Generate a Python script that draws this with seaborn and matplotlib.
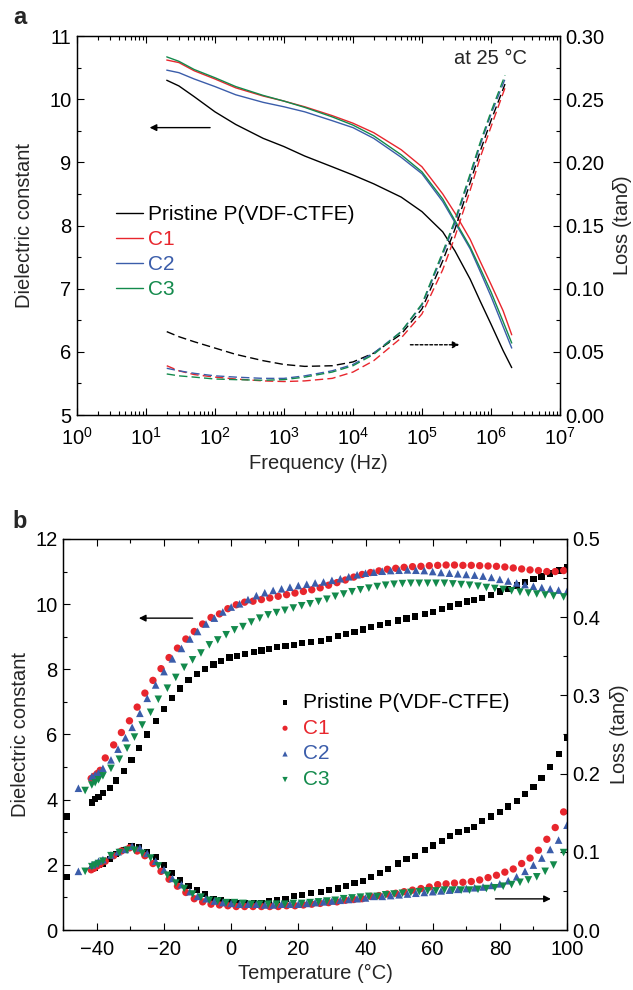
import matplotlib
matplotlib.use("Agg")
import matplotlib.pyplot as plt
from matplotlib.ticker import MultipleLocator, LogLocator, NullFormatter, FormatStrFormatter, FixedLocator
import seaborn as sns

# ---------- panel a: frequency sweep at 25 C ----------
freq_eps = [20, 30, 50, 100, 200, 500, 1e3, 2e3, 5e3, 1e4, 2e4, 5e4, 1e5, 2e5, 3e5, 5e5, 7e5, 1e6, 1.5e6, 2e6]
eps_pristine_f = [10.30, 10.21, 10.04, 9.80, 9.60, 9.38, 9.25, 9.10, 8.93, 8.80, 8.66, 8.45, 8.22, 7.90, 7.60, 7.15, 6.80, 6.44, 6.02, 5.75]
eps_c1_f = [10.62, 10.58, 10.45, 10.32, 10.18, 10.05, 9.97, 9.88, 9.74, 9.62, 9.47, 9.20, 8.93, 8.50, 8.20, 7.78, 7.43, 7.07, 6.65, 6.27]
eps_c2_f = [10.46, 10.42, 10.32, 10.20, 10.07, 9.95, 9.88, 9.80, 9.66, 9.55, 9.38, 9.08, 8.82, 8.38, 8.05, 7.63, 7.27, 6.88, 6.40, 6.06]
eps_c3_f = [10.67, 10.60, 10.47, 10.34, 10.20, 10.06, 9.97, 9.87, 9.72, 9.59, 9.42, 9.12, 8.85, 8.42, 8.08, 7.66, 7.32, 6.95, 6.48, 6.14]

freq_loss = [20, 30, 50, 100, 200, 500, 1e3, 2e3, 5e3, 1e4, 2e4, 5e4, 1e5, 2e5, 3e5, 5e5, 7e5, 1e6, 1.6e6]
loss_pristine_f = [0.066, 0.062, 0.058, 0.053, 0.048, 0.043, 0.040, 0.0385, 0.039, 0.042, 0.049, 0.064, 0.084, 0.122, 0.147, 0.184, 0.209, 0.233, 0.262]
loss_c1_f = [0.039, 0.035, 0.032, 0.030, 0.0285, 0.027, 0.0265, 0.027, 0.029, 0.034, 0.043, 0.061, 0.080, 0.115, 0.141, 0.178, 0.204, 0.228, 0.259]
loss_c2_f = [0.037, 0.035, 0.033, 0.031, 0.030, 0.029, 0.029, 0.031, 0.035, 0.040, 0.049, 0.066, 0.087, 0.127, 0.152, 0.189, 0.214, 0.238, 0.266]
loss_c3_f = [0.0325, 0.031, 0.030, 0.0285, 0.028, 0.0275, 0.028, 0.030, 0.034, 0.039, 0.048, 0.066, 0.088, 0.129, 0.154, 0.191, 0.216, 0.240, 0.269]
freq_ticks = [1, 10, 100, 1e3, 1e4, 1e5, 1e6, 1e7]

# ---------- panel b: temperature sweep ----------
temp_pristine = [-48.8, -41.5, -40.5, -39.5, -38.2, -36.2, -34.2, -32.0, -29.7, -27.5, -25.0, -22.5, -20.0, -17.7,
                 -15.2, -12.7, -10.3, -7.8, -5.3, -3.0, -0.5, 1.8, 4.2, 6.7, 9.0, 11.2, 13.7, 16.2, 18.7, 21.2,
                 23.7, 26.7, 29.2, 31.7, 34.2, 36.7, 39.2, 41.7, 44.2, 46.7, 49.7, 52.2, 54.7, 57.7, 60.2, 62.7,
                 65.2, 67.7, 70.2, 72.4, 74.8, 77.4, 80.0, 82.4, 85.0, 87.4, 90.0, 92.4, 95.0, 97.7, 100.0]
eps_pristine_t = [3.48, 3.91, 4.01, 4.09, 4.20, 4.35, 4.59, 4.89, 5.22, 5.59, 6.00, 6.41, 6.79, 7.13,
                  7.41, 7.66, 7.86, 8.01, 8.15, 8.26, 8.36, 8.42, 8.47, 8.54, 8.58, 8.63, 8.68, 8.72, 8.75, 8.80,
                  8.83, 8.87, 8.94, 9.01, 9.08, 9.15, 9.22, 9.29, 9.37, 9.42, 9.50, 9.56, 9.62, 9.70, 9.77, 9.85,
                  9.93, 10.01, 10.08, 10.13, 10.20, 10.29, 10.39, 10.47, 10.57, 10.67, 10.77, 10.85, 10.94, 11.03, 11.14]
loss_pristine_t = [0.068, 0.078, 0.080, 0.083, 0.085, 0.091, 0.097, 0.102, 0.107, 0.106, 0.099, 0.093, 0.083, 0.073,
                   0.064, 0.056, 0.051, 0.046, 0.040, 0.038, 0.036, 0.035, 0.034, 0.035, 0.035, 0.037, 0.038, 0.040,
                   0.043, 0.045, 0.047, 0.049, 0.051, 0.053, 0.056, 0.060, 0.063, 0.068, 0.073, 0.078, 0.085, 0.091,
                   0.095, 0.102, 0.108, 0.114, 0.120, 0.125, 0.128, 0.132, 0.139, 0.145, 0.151, 0.158, 0.165, 0.174,
                   0.183, 0.194, 0.208, 0.225, 0.245]

temp_c1 = [-41.7, -40.8, -39.9, -39.0, -37.5, -35.0, -32.7, -30.3, -28.0, -25.7, -23.3, -20.9, -18.5, -16.0,
           -13.5, -11.0, -8.5, -6.0, -3.5, -1.0, 1.5, 4.0, 6.5, 9.0, 11.5, 14.0, 16.5, 19.0, 21.5, 24.0, 26.5,
           29.0, 31.5, 34.0, 36.5, 39.0, 41.5, 44.0, 46.5, 49.0, 51.5, 54.0, 56.5, 59.0, 61.5, 64.0, 66.5, 69.0,
           71.5, 74.0, 76.5, 79.0, 81.5, 84.0, 86.5, 89.0, 91.5, 94.0, 96.5, 99.0]
eps_c1_t = [4.65, 4.72, 4.80, 4.90, 5.28, 5.68, 6.06, 6.42, 6.84, 7.27, 7.66, 8.02, 8.36, 8.65,
            8.93, 9.16, 9.39, 9.59, 9.70, 9.86, 9.98, 10.06, 10.09, 10.14, 10.19, 10.24, 10.29, 10.34, 10.39,
            10.44, 10.50, 10.58, 10.66, 10.74, 10.83, 10.91, 10.97, 11.02, 11.07, 11.10, 11.13, 11.15, 11.16,
            11.18, 11.19, 11.20, 11.20, 11.19, 11.19, 11.18, 11.17, 11.16, 11.14, 11.11, 11.08, 11.05, 11.03,
            11.00, 11.00, 11.03]
loss_c1_t = [0.077, 0.079, 0.082, 0.084, 0.088, 0.095, 0.101, 0.105, 0.101, 0.095, 0.085, 0.075, 0.065, 0.056,
             0.048, 0.040, 0.036, 0.033, 0.032, 0.031, 0.030, 0.030, 0.030, 0.030, 0.030, 0.030, 0.031, 0.031,
             0.032, 0.033, 0.034, 0.035, 0.036, 0.038, 0.039, 0.040, 0.043, 0.044, 0.046, 0.047, 0.049, 0.051,
             0.053, 0.055, 0.058, 0.059, 0.060, 0.061, 0.062, 0.064, 0.067, 0.070, 0.074, 0.078, 0.085, 0.092,
             0.102, 0.116, 0.131, 0.151]

temp_c2 = [-45.5, -41.5, -40.5, -39.5, -38.2, -35.8, -33.7, -31.5, -29.5, -27.2, -25.0, -22.5, -20.0, -17.5,
           -14.8, -12.3, -10.0, -7.5, -5.0, -2.5, 0.0, 2.5, 5.0, 7.5, 10.0, 12.5, 15.0, 17.5, 20.0, 22.5, 25.0,
           27.5, 30.0, 32.5, 35.0, 37.5, 40.0, 42.5, 45.0, 47.5, 50.0, 52.5, 55.0, 57.5, 60.0, 62.5, 65.0, 67.5,
           70.0, 72.5, 75.0, 77.5, 80.0, 82.5, 85.0, 87.5, 90.0, 92.5, 95.0, 97.5, 100.0]
eps_c2_t = [4.35, 4.71, 4.76, 4.83, 4.96, 5.22, 5.55, 5.90, 6.22, 6.65, 7.11, 7.52, 7.93, 8.32,
            8.64, 8.93, 9.16, 9.39, 9.57, 9.76, 9.91, 10.01, 10.14, 10.26, 10.35, 10.42, 10.47, 10.52, 10.57,
            10.61, 10.65, 10.68, 10.73, 10.78, 10.84, 10.90, 10.95, 10.98, 11.01, 11.03, 11.04, 11.05, 11.04,
            11.03, 11.00, 10.97, 10.95, 10.93, 10.91, 10.89, 10.86, 10.82, 10.76, 10.71, 10.65, 10.60, 10.55,
            10.51, 10.47, 10.43, 10.39]
loss_c2_t = [0.075, 0.083, 0.085, 0.088, 0.090, 0.096, 0.100, 0.103, 0.107, 0.105, 0.098, 0.088, 0.077, 0.066,
             0.058, 0.049, 0.043, 0.040, 0.037, 0.035, 0.034, 0.033, 0.033, 0.033, 0.032, 0.032, 0.033, 0.033,
             0.033, 0.034, 0.035, 0.036, 0.037, 0.038, 0.039, 0.040, 0.041, 0.043, 0.043, 0.044, 0.045, 0.046,
             0.047, 0.048, 0.049, 0.050, 0.051, 0.052, 0.053, 0.054, 0.055, 0.057, 0.059, 0.063, 0.068, 0.075,
             0.083, 0.092, 0.103, 0.115, 0.134]

temp_c3 = [-43.5, -41.5, -40.5, -39.5, -38.2, -35.8, -33.3, -31.0, -28.8, -26.5, -24.0, -21.7, -19.0, -16.5,
           -14.0, -11.5, -9.0, -6.5, -4.0, -1.5, 1.0, 3.5, 6.0, 8.5, 11.0, 13.5, 16.0, 18.5, 21.0, 23.5, 26.0,
           28.5, 31.0, 33.5, 36.0, 38.5, 41.0, 43.5, 46.0, 48.5, 51.0, 53.5, 56.0, 58.5, 61.0, 63.5, 66.0, 68.5,
           71.0, 73.5, 76.0, 78.5, 81.0, 83.5, 86.0, 88.5, 91.0, 93.5, 96.0, 99.0]
eps_c3_t = [4.28, 4.45, 4.52, 4.61, 4.73, 4.96, 5.24, 5.58, 5.92, 6.29, 6.68, 7.08, 7.42, 7.75,
            8.06, 8.29, 8.50, 8.75, 8.90, 9.06, 9.21, 9.31, 9.45, 9.57, 9.67, 9.74, 9.81, 9.88, 9.95, 10.01,
            10.08, 10.15, 10.24, 10.31, 10.38, 10.44, 10.49, 10.54, 10.58, 10.61, 10.63, 10.64, 10.64, 10.64,
            10.64, 10.64, 10.62, 10.60, 10.58, 10.55, 10.51, 10.48, 10.45, 10.41, 10.37, 10.34, 10.31, 10.28,
            10.25, 10.22]
loss_c3_t = [0.075, 0.081, 0.083, 0.085, 0.088, 0.095, 0.099, 0.102, 0.102, 0.098, 0.092, 0.082, 0.070, 0.060,
             0.053, 0.046, 0.042, 0.038, 0.037, 0.035, 0.035, 0.034, 0.033, 0.033, 0.033, 0.033, 0.033, 0.034,
             0.034, 0.035, 0.036, 0.037, 0.038, 0.040, 0.041, 0.042, 0.043, 0.043, 0.045, 0.046, 0.047, 0.048,
             0.049, 0.050, 0.050, 0.051, 0.051, 0.051, 0.051, 0.052, 0.053, 0.054, 0.056, 0.058, 0.061, 0.064,
             0.068, 0.075, 0.083, 0.099]

labels = ["Pristine P(VDF-CTFE)", "C1", "C2", "C3"]
colors = ["#000000", "#e8262d", "#3b5daa", "#138a4c"]

sns.set_style("ticks")
plt.rcParams["font.family"] = ["Liberation Sans", "DejaVu Sans"]
plt.rcParams["mathtext.fontset"] = "custom"
plt.rcParams["mathtext.rm"] = "Liberation Sans"
plt.rcParams["mathtext.it"] = "Liberation Sans:italic"
plt.rcParams["mathtext.default"] = "regular"
plt.rcParams["axes.linewidth"] = 0.9
plt.rcParams["axes.edgecolor"] = "black"

fs_tick = 14.5
fs_label = 14.5
fs_leg = 15


def style_ticks(ax, right=False, xpad=7):
    ax.tick_params(which="both", direction="in", top=not right, right=right,
                   left=not right, bottom=not right, labelsize=fs_tick, colors="black")
    ax.tick_params(which="major", length=5, width=0.8)
    ax.tick_params(which="minor", length=3, width=0.8)
    ax.tick_params(axis="x", pad=xpad)
    ax.tick_params(axis="y", pad=3.5 if right else 4)


fig = plt.figure(figsize=(6.33, 9.9), dpi=100)

# ===== panel a =====
ax_a = fig.add_axes([0.1216, 0.5808, 0.763, 0.3828])
ax_a2 = ax_a.twinx()
eps_a = [eps_pristine_f, eps_c1_f, eps_c2_f, eps_c3_f]
loss_a = [loss_pristine_f, loss_c1_f, loss_c2_f, loss_c3_f]
for lab, col, ys in zip(labels, colors, eps_a):
    sns.lineplot(x=freq_eps, y=ys, color=col, lw=1.0, label=lab, ax=ax_a)
for col, ys in zip(colors, loss_a):
    sns.lineplot(x=freq_loss, y=ys, color=col, lw=1.0, ax=ax_a2, legend=False)
for ln in ax_a2.get_lines():
    ln.set_dashes((6, 3))

ax_a.set_xscale("log")
ax_a.set_xlim(1, 1e7)
ax_a.set_ylim(5, 11)
ax_a2.set_ylim(0, 0.30)
ax_a.xaxis.set_major_locator(FixedLocator(freq_ticks))
ax_a.xaxis.set_minor_locator(LogLocator(base=10, subs=range(2, 10), numticks=100))
ax_a.xaxis.set_minor_formatter(NullFormatter())
ax_a.yaxis.set_major_locator(MultipleLocator(1))
ax_a.yaxis.set_minor_locator(MultipleLocator(0.5))
ax_a2.yaxis.set_major_locator(MultipleLocator(0.05))
ax_a2.yaxis.set_minor_locator(MultipleLocator(0.025))
ax_a2.yaxis.set_major_formatter(FormatStrFormatter("%.2f"))
style_ticks(ax_a, xpad=8.5)
style_ticks(ax_a2, right=True)
ax_a.set_xlabel("Frequency (Hz)", fontsize=fs_label, labelpad=4)
ax_a.set_ylabel("Dielectric constant", fontsize=fs_label, labelpad=11)
ax_a2.set_ylabel("Loss (tan$\\it{\\delta}$)", fontsize=fs_label, labelpad=5)

leg = ax_a.legend(loc="upper left", bbox_to_anchor=(0.0807, 0.553), frameon=False, fontsize=fs_leg,
                  handlelength=1.28, handletextpad=0.26, labelspacing=0.28, borderpad=0, borderaxespad=0)
for txt, col in zip(leg.get_texts(), colors):
    txt.set_color(col)

ax_a.text(0.7805, 0.942, "at 25 \u00b0C", transform=ax_a.transAxes, ha="left", va="center", fontsize=fs_label)
ax_a.annotate("", xy=(11.3, 9.55), xytext=(85, 9.55),
              arrowprops=dict(arrowstyle="-|>", color="black", lw=1.0, mutation_scale=10, shrinkA=0, shrinkB=0))
ax_a2.annotate("", xy=(3.5e5, 0.0556), xytext=(6.8e4, 0.0556),
               arrowprops=dict(arrowstyle="-|>", color="black", lw=1.0, ls=(0, (2, 1.5)),
                               mutation_scale=10, shrinkA=0, shrinkB=0))
fig.text(20 / 633, 1 - 17 / 990, "a", fontsize=17, fontweight="bold", ha="center", va="center")

# ===== panel b =====
ax_b = fig.add_axes([0.1, 0.0606, 0.7957, 0.395])
ax_b2 = ax_b.twinx()
temps = [temp_pristine, temp_c1, temp_c2, temp_c3]
eps_b = [eps_pristine_t, eps_c1_t, eps_c2_t, eps_c3_t]
loss_b = [loss_pristine_t, loss_c1_t, loss_c2_t, loss_c3_t]
markers = ["s", "o", "^", "v"]
sizes = [20, 28, 30, 30]
for lab, col, mk, sz, tt, ys in zip(labels, colors, markers, sizes, temps, eps_b):
    sns.scatterplot(x=tt, y=ys, color=col, marker=mk, s=sz, edgecolor="none", label=lab, ax=ax_b)
for col, mk, sz, tt, ys in zip(colors, markers, sizes, temps, loss_b):
    sns.scatterplot(x=tt, y=ys, color=col, marker=mk, s=sz, edgecolor="none", legend=False, ax=ax_b2)

ax_b.set_xlim(-50, 100)
ax_b.set_ylim(0, 12)
ax_b2.set_ylim(0, 0.5)
ax_b.xaxis.set_major_locator(MultipleLocator(20))
ax_b.xaxis.set_minor_locator(MultipleLocator(10))
ax_b.yaxis.set_major_locator(MultipleLocator(2))
ax_b.yaxis.set_minor_locator(MultipleLocator(1))
ax_b2.yaxis.set_major_locator(MultipleLocator(0.1))
ax_b2.yaxis.set_minor_locator(MultipleLocator(0.05))
ax_b2.yaxis.set_major_formatter(FormatStrFormatter("%.1f"))
style_ticks(ax_b, xpad=7)
style_ticks(ax_b2, right=True)
ax_b.set_xlabel("Temperature (\u00b0C)", fontsize=fs_label, labelpad=4)
ax_b.set_ylabel("Dielectric constant", fontsize=fs_label, labelpad=4)
ax_b2.set_ylabel("Loss (tan$\\it{\\delta}$)", fontsize=fs_label, labelpad=6)

leg_b = ax_b.legend(loc="upper left", bbox_to_anchor=(0.4237, 0.606), frameon=False, fontsize=fs_leg,
                    handlelength=0.8, handletextpad=0.45, labelspacing=0.32, borderpad=0, borderaxespad=0,
                    markerscale=0.7)
for txt, col in zip(leg_b.get_texts(), colors):
    txt.set_color(col)

ax_b.annotate("", xy=(-27.5, 9.57), xytext=(-11.5, 9.57),
              arrowprops=dict(arrowstyle="-|>", color="black", lw=1.0, mutation_scale=10, shrinkA=0, shrinkB=0))
ax_b2.annotate("", xy=(95.2, 0.0398), xytext=(78.7, 0.0398),
               arrowprops=dict(arrowstyle="-|>", color="black", lw=1.0, mutation_scale=10, shrinkA=0, shrinkB=0))
fig.text(20 / 633, 1 - 522 / 990, "b", fontsize=17, fontweight="bold", ha="center", va="center")

fig.savefig("out.png", dpi=100)
